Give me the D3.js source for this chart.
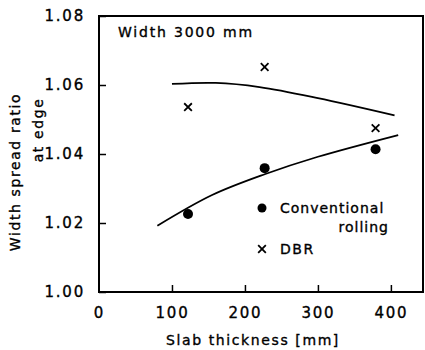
<!DOCTYPE html>
<html>
<head>
<meta charset="utf-8">
<script src="https://cdn.jsdelivr.net/npm/d3@7"></script>
<style>
  body { margin: 0; background: #fff; }
  text { font-family: "DejaVu Sans", sans-serif; fill: #000; stroke: #000; stroke-width: 0.35px; }
</style>
</head>
<body>
<div id="chart"></div>
<script>
const xTicks = [0, 100, 200, 300, 400];
const yTicks = [1.00, 1.02, 1.04, 1.06, 1.08];

const conventional = [[122, 1.0226], [227, 1.0359], [379, 1.0414]];
const dbr = [[122, 1.0536], [227, 1.0652], [379, 1.0475]];

const upperCurve = [[100, 1.0603], [160, 1.0606], [220, 1.0594], [300, 1.0562], [405, 1.0512]];
const lowerCurve = [[80, 1.0192], [155, 1.0281], [228, 1.0342], [300, 1.0392], [410, 1.0455]];

const outerWidth = 425;
const outerHeight = 350;
const plot = { left: 99, right: 423, top: 16, bottom: 292 };

const svg = d3.select('#chart').append('svg')
    .attr('width', outerWidth)
    .attr('height', outerHeight);

const x = d3.scaleLinear().domain([0, 444]).range([plot.left, plot.right]);
const y = d3.scaleLinear().domain([1.00, 1.08]).range([plot.bottom, plot.top]);

// frame
svg.append('rect')
    .attr('x', plot.left)
    .attr('y', plot.top)
    .attr('width', plot.right - plot.left)
    .attr('height', plot.bottom - plot.top)
    .attr('fill', 'none')
    .attr('stroke', '#000')
    .attr('stroke-width', 2);

// axes with inward ticks
const xAxis = d3.axisBottom(x).tickValues(xTicks).tickSize(-7).tickPadding(15)
    .tickFormat(d3.format('d'));
const gx = svg.append('g')
    .attr('transform', `translate(0, ${plot.bottom})`)
    .call(xAxis);

const yAxis = d3.axisLeft(y).tickValues(yTicks).tickSize(-7).tickPadding(14)
    .tickFormat(d3.format('.2f'));
const gy = svg.append('g')
    .attr('transform', `translate(${plot.left}, 0)`)
    .call(yAxis);

[gx, gy].forEach(g => {
    g.select('.domain').remove();
    g.selectAll('.tick line').attr('stroke', '#000').attr('stroke-width', 1.5);
    g.selectAll('.tick text')
        .style('font-size', '15px')
        .style('letter-spacing', '1.8px');
});
gx.selectAll('.tick').filter(d => d === 0).select('line').remove();

// axis titles
svg.append('text')
    .attr('x', 253)
    .attr('y', 345)
    .attr('text-anchor', 'middle')
    .style('font-size', '14px')
    .style('letter-spacing', '1.6px')
    .text('Slab thickness [mm]');

svg.append('text')
    .attr('transform', 'translate(20, 172) rotate(-90)')
    .attr('text-anchor', 'middle')
    .style('font-size', '14px')
    .style('letter-spacing', '1.6px')
    .text('Width spread ratio');

svg.append('text')
    .attr('transform', 'translate(43, 130) rotate(-90)')
    .attr('text-anchor', 'middle')
    .style('font-size', '14px')
    .style('letter-spacing', '1.6px')
    .text('at edge');

svg.append('text')
    .attr('x', 118)
    .attr('y', 37)
    .style('font-size', '14px')
    .style('letter-spacing', '1.8px')
    .text('Width 3000 mm');

// fitted curves
const line = d3.line()
    .x(d => x(d[0]))
    .y(d => y(d[1]))
    .curve(d3.curveCatmullRom);

[upperCurve, lowerCurve].forEach(c => {
    svg.append('path')
        .datum(c)
        .attr('d', line)
        .attr('fill', 'none')
        .attr('stroke', '#000')
        .attr('stroke-width', 1.8);
});

// conventional rolling points
svg.selectAll('.conv')
    .data(conventional)
    .join('circle')
    .attr('class', 'conv')
    .attr('cx', d => x(d[0]))
    .attr('cy', d => y(d[1]))
    .attr('r', 5)
    .attr('fill', '#000');

// DBR points
const cross = d3.symbol().type(d3.symbolX).size(40);
svg.selectAll('.dbr')
    .data(dbr)
    .join('path')
    .attr('class', 'dbr')
    .attr('transform', d => `translate(${x(d[0])}, ${y(d[1])})`)
    .attr('d', cross)
    .attr('fill', 'none')
    .attr('stroke', '#000')
    .attr('stroke-width', 1.8);

// legend
const legend = svg.append('g');
legend.append('circle')
    .attr('cx', 262).attr('cy', 208).attr('r', 4.5).attr('fill', '#000');
legend.append('text')
    .attr('x', 280).attr('y', 213)
    .style('font-size', '14px').style('letter-spacing', '1px')
    .text('Conventional');
legend.append('text')
    .attr('x', 389).attr('y', 232)
    .attr('text-anchor', 'end')
    .style('font-size', '14px').style('letter-spacing', '1px')
    .text('rolling');
legend.append('path')
    .attr('transform', 'translate(262, 249)')
    .attr('d', cross)
    .attr('fill', 'none')
    .attr('stroke', '#000')
    .attr('stroke-width', 1.8);
legend.append('text')
    .attr('x', 280).attr('y', 254)
    .style('font-size', '14px').style('letter-spacing', '1.5px')
    .text('DBR');
</script>
</body>
</html>
